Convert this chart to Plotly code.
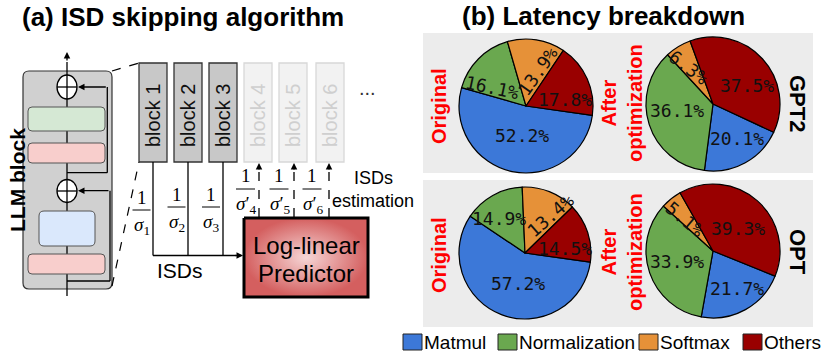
import math
import plotly.graph_objects as go

W, H = 831, 356

# ---------------- data ----------------
categories = ["Matmul", "Normalization", "Softmax", "Others"]
colors = ["#3c78d8", "#6aa84f", "#e69138", "#990000"]
models = ["GPT2", "OPT"]
stages = ["Original", "After<br>optimization"]
gpt2_original = [52.2, 16.1, 13.9, 17.8]
gpt2_after = [20.1, 36.1, 6.3, 37.5]
opt_original = [57.2, 14.9, 13.4, 14.5]
opt_after = [21.7, 33.9, 5.1, 39.3]
block_labels = ["block 1", "block 2", "block 3", "block 4", "block 5", "block 6"]
isd_known = ["1", "2", "3"]
isd_estimated = ["4", "5", "6"]

SANS = "Liberation Sans, Arial, sans-serif"
MONO = "DejaVu Sans Mono, monospace"
SERIF = "Liberation Serif, Times New Roman, serif"

fig = go.Figure()
shapes = []
ann = []


def line(x0, y0, x1, y1, color="black", width=1.3, dash="solid", layer="above"):
    shapes.append(dict(type="line", xref="x", yref="y", x0=x0, y0=y0, x1=x1, y1=y1,
                       line=dict(color=color, width=width, dash=dash), layer=layer))


def rect(x0, y0, x1, y1, fill, color="black", width=1, layer="above"):
    shapes.append(dict(type="rect", xref="x", yref="y", x0=x0, y0=y0, x1=x1, y1=y1,
                       fillcolor=fill, line=dict(color=color, width=width), layer=layer))


def rrect(x0, y0, x1, y1, rr, fill, color="black", width=1):
    p = (f"M{x0+rr},{y0} L{x1-rr},{y0} Q{x1},{y0} {x1},{y0+rr} L{x1},{y1-rr} "
         f"Q{x1},{y1} {x1-rr},{y1} L{x0+rr},{y1} Q{x0},{y1} {x0},{y1-rr} "
         f"L{x0},{y0+rr} Q{x0},{y0} {x0+rr},{y0} Z")
    shapes.append(dict(type="path", xref="x", yref="y", path=p, fillcolor=fill,
                       line=dict(color=color, width=width), layer="above"))


def arrow(xt, yt, xs, ys, width=1.3, head=2, size=1.0, color="black"):
    ann.append(dict(x=xt, y=yt, ax=xs, ay=ys, xref="x", yref="y", axref="x", ayref="y",
                    text="", showarrow=True, arrowhead=head, arrowsize=size,
                    arrowwidth=width, arrowcolor=color, standoff=0, startstandoff=0))


def text(x, y, s, size, color="black", family=SANS, angle=0, xanchor="center"):
    ann.append(dict(x=x, y=y, xref="x", yref="y", text=s, showarrow=False,
                    font=dict(size=size, color=color, family=family), textangle=angle,
                    xanchor=xanchor, yanchor="middle"))


# ---------------- titles ----------------
text(183, 17, "<b>(a) ISD skipping algorithm</b>", 26)
text(603, 16, "<b>(b) Latency breakdown</b>", 26)

# ---------------- (a) LLM block ----------------
rrect(23, 71, 112, 289, 6, "#d0d0d0", "#333333", 1.2)
# main path
line(67, 296, 67, 62)
arrow(67, 52, 67, 62)
# residual connections
line(67, 172.7, 107.3, 172.7)
line(107.3, 172.7, 107.3, 87)
arrow(78, 87, 107.3, 87)
line(67, 281, 110, 281)
line(110, 281, 110, 190.7)
arrow(78, 190.7, 110, 190.7)
# sub-blocks
rrect(28, 107, 105, 131, 4, "#d5e8d4", "#555555", 1)
rrect(28, 143, 105, 163, 4, "#f8cecc", "#555555", 1)
rrect(39, 211, 95, 246, 5, "#dae8fc", "#555555", 1)
rrect(28, 254, 105, 274, 4, "#f8cecc", "#555555", 1)
# add nodes
for cy, ry in [(87, 12), (191, 11.5)]:
    shapes.append(dict(type="circle", xref="x", yref="y", x0=57, x1=77, y0=cy - ry, y1=cy + ry,
                       fillcolor="white", line=dict(color="black", width=1.3), layer="above"))
    line(57, cy, 77, cy)
    line(67, cy - ry, 67, cy + ry)
text(17, 180, "<b>LLM block</b>", 21, angle=-90)

# zoom dashed lines
line(112, 71, 139, 63, dash="dash", width=1.2)
line(112, 286, 139, 162, dash="dash", width=1.2)

# blocks
block_x = [139, 174, 209, 244, 279, 316]
for i, lab in enumerate(block_labels):
    x0 = block_x[i]
    known = i < 3
    rect(x0, 63, x0 + 28, 162, "#c8c8c8" if known else "#f2f2f2",
         "#333333" if known else "#d8d8d8", 1.3)
    text(x0 + 14, 116, lab, 20, color="#111111" if known else "#cfcfcf", angle=-90)
text(367, 88, "...", 20, color="#333333")

# known ISDs lines to predictor
stem_x = [153, 188, 223]
for sx in stem_x:
    line(sx, 162, sx, 255.5)
line(153, 255.5, 236, 255.5)
arrow(243, 255.5, 234, 255.5)
text(180, 270, "ISDs", 21)

frac_known_x = [141.5, 176.5, 211]
frac_known_y = [197, 194, 194]
for i, s in enumerate(isd_known):
    fx, fy = frac_known_x[i], frac_known_y[i]
    text(fx, fy, "1", 19, family=SERIF)
    line(fx - 9, fy + 13, fx + 9, fy + 13, width=1)
    text(fx, fy + 29, f"<i>σ</i><sub>{s}</sub>", 19, family=SERIF)

# estimated ISDs
est_x = [245.5, 279, 312]
arrow_x = [259, 294, 329]
for i, s in enumerate(isd_estimated):
    fx = est_x[i]
    text(fx, 175, "1", 19, family=SERIF)
    line(fx - 9.5, 189, fx + 9.5, 189, width=1)
    text(fx + 1, 205, f"<i>σ</i>′<sub>{s}</sub>", 19, family=SERIF)
    ax = arrow_x[i]
    line(ax, 217, ax, 171, dash="dash", width=1.3)
    arrow(ax, 163, ax, 171)
text(373, 178, "ISDs", 18)
text(373, 201, "estimation", 18)

# predictor (radial gradient box)
fig.add_trace(go.Scatter(
    x=[244, 368, 368, 244, 244], y=[218, 218, 297, 297, 218], mode="lines",
    fill="toself", fillgradient=dict(type="radial",
                                     colorscale=[[0, "#f6d6d6"], [1, "#d45f5f"]]),
    line=dict(color="black", width=3), hoverinfo="skip", showlegend=False))
text(306, 245, "Log-linear", 24)
text(306, 273, "Predictor", 24)

# ---------------- (b) latency breakdown ----------------
rect(423, 33, 813, 173, "#ececec", "rgba(0,0,0,0)", 0, layer="below")
rect(423, 180, 813, 327, "#ececec", "rgba(0,0,0,0)", 0, layer="below")

# label styling: angular nudge (deg), radial fraction, text rotation
pies = [
    dict(values=gpt2_original, cx=526, cy=106, r=67, rot=98,
         nudge=[-4, -16, 10, 15], frac=[0.45, 0.58, 0.54, 0.59], tangle=[0, 12, -55, 0]),
    dict(values=gpt2_after, cx=713, cy=104, r=67, rot=115,
         nudge=[-6, 8, -2, 14], frac=[0.62, 0.55, 0.66, 0.575], tangle=[0, 0, 37, 0]),
    dict(values=opt_original, cx=525, cy=253, r=66, rot=98,
         nudge=[-8, -8, 12, 11], frac=[0.47, 0.65, 0.69, 0.61], tangle=[0, 0, -41, 0]),
    dict(values=opt_after, cx=713, cy=251, r=67, rot=112,
         nudge=[-4, 2, -3, 7], frac=[0.66, 0.56, 0.62, 0.5], tangle=[0, 0, 40, 0]),
]
for p in pies:
    cx, cy, r = p["cx"], p["cy"], p["r"]
    fig.add_trace(go.Pie(
        labels=categories, values=p["values"], sort=False, direction="clockwise",
        rotation=p["rot"], marker=dict(colors=colors, line=dict(color="black", width=1.2)),
        textinfo="none", hoverinfo="skip", showlegend=False,
        domain=dict(x=[(cx - r) / W, (cx + r) / W], y=[1 - (cy + r) / H, 1 - (cy - r) / H])))
    tot = sum(p["values"])
    a = p["rot"]
    for v, nd, f, ta in zip(p["values"], p["nudge"], p["frac"], p["tangle"]):
        span = v / tot * 360
        mid = math.radians(a + span / 2 + nd)
        text(cx + f * r * math.sin(mid), cy - f * r * math.cos(mid), f"{v:.1f}%", 18,
             color="#111111", family=MONO, angle=ta)
        a += span

row_y = [104, 253]
for m, ry in zip(models, row_y):
    text(439, ry + 2, f"<b>{stages[0]}</b>", 20, color="#ff0000", angle=-90)
    text(622, ry - 1, f"<b>{stages[1]}</b>", 20, color="#ff0000", angle=-90)
    text(798, ry - 1, f"<b>{m}</b>", 22, angle=90)

# legend
leg_x = [403, 498, 639, 743]
for c, col, lx in zip(categories, colors, leg_x):
    rect(lx, 334, lx + 19, 350, col, "#222222", 1)
    text(lx + 19, 342, c, 19, xanchor="left")

fig.update_layout(
    width=W, height=H, margin=dict(l=0, r=0, t=0, b=0),
    paper_bgcolor="white", plot_bgcolor="white",
    xaxis=dict(range=[0, W], visible=False, fixedrange=True),
    yaxis=dict(range=[H, 0], visible=False, fixedrange=True),
    shapes=shapes, annotations=ann, showlegend=False,
)
fig.write_html("out.html", config={"displayModeBar": False},
               post_script="document.body.style.margin='0px';")
